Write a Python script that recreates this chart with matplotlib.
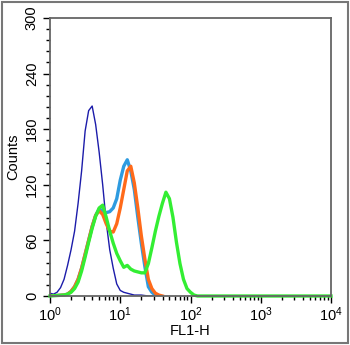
import matplotlib
matplotlib.use('Agg')
import matplotlib.pyplot as plt
from matplotlib.patches import Rectangle
from matplotlib.ticker import MultipleLocator, LogLocator, NullFormatter
import numpy as np

plt.rcParams['font.family'] = ['Liberation Sans', 'DejaVu Sans']
plt.rcParams['mathtext.fontset'] = 'custom'
plt.rcParams['mathtext.rm'] = 'Liberation Sans'

# log10(FL1-H) channel positions and counts
navy_log = [0.00, 0.05, 0.10, 0.15, 0.20, 0.25, 0.30, 0.35, 0.40, 0.45, 0.50, 0.55,
            0.60, 0.65, 0.70, 0.75, 0.80, 0.85, 0.90, 0.95, 1.00, 1.05, 1.10, 1.15,
            1.20, 1.30, 1.40, 1.50]
navy_cnt = [3, 2, 4, 9, 18, 33, 50, 70, 100, 135, 178, 200,
            205, 185, 155, 120, 80, 50, 30, 13, 6, 4, 3, 2,
            1, 1, 0, 0]

lblue_log = [0.00, 0.20, 0.25, 0.30, 0.35, 0.40, 0.45, 0.50, 0.55, 0.60, 0.65, 0.70,
             0.75, 0.80, 0.85, 0.90, 0.95, 1.00, 1.05, 1.10, 1.15, 1.20, 1.25, 1.30,
             1.35, 1.40, 1.45, 1.50, 1.55]
lblue_cnt = [0, 1, 2, 5, 10, 18, 30, 45, 60, 75, 87, 94,
             92, 90, 91, 95, 105, 125, 140, 147, 135, 115, 85, 57,
             32, 10, 4, 1, 0]

orange_log = [0.00, 0.20, 0.25, 0.30, 0.35, 0.40, 0.45, 0.50, 0.55, 0.60, 0.65, 0.70,
              0.75, 0.80, 0.85, 0.90, 0.95, 1.00, 1.05, 1.10, 1.15, 1.20, 1.25, 1.30,
              1.35, 1.40, 1.45, 1.50, 1.55, 1.60]
orange_cnt = [0, 1, 2, 5, 10, 18, 30, 45, 60, 75, 87, 92,
              88, 78, 70, 69, 78, 95, 115, 135, 140, 122, 95, 65,
              40, 18, 8, 3, 1, 0]

green_log = [0.00, 0.20, 0.25, 0.30, 0.35, 0.40, 0.45, 0.50, 0.55, 0.60, 0.65, 0.70,
             0.75, 0.80, 0.85, 0.90, 0.95, 1.00, 1.05, 1.10, 1.15, 1.20, 1.25, 1.30,
             1.35, 1.40, 1.45, 1.50, 1.55, 1.60, 1.65, 1.70, 1.75, 1.80, 1.85, 1.90,
             1.95, 2.00, 2.05, 2.10, 4.00]
green_cnt = [0, 1, 2, 4, 8, 15, 27, 42, 58, 73, 86, 95,
             98, 85, 70, 57, 46, 38, 31, 33, 29, 27, 26, 25,
             25, 35, 52, 70, 86, 100, 112, 105, 85, 58, 35, 18,
             8, 4, 1, 0, 0]

fig = plt.figure(figsize=(3.5, 3.45), dpi=100)
ax = fig.add_axes([50/350, 1 - 296/345, 281/350, 278/345])

ax.plot(10**np.array(navy_log), navy_cnt, color='#1c1caa', lw=1.0)
ax.plot(10**np.array(lblue_log), lblue_cnt, color='#2e9be0', lw=2.4)
ax.plot(10**np.array(orange_log), orange_cnt, color='#ff6a1a', lw=2.4)
ax.plot(10**np.array(green_log), green_cnt, color='#33ee33', lw=2.4, clip_on=False)

ax.set_xscale('log')
ax.set_xlim(1, 1e4)
ax.set_ylim(0, 300)
ax.yaxis.set_major_locator(MultipleLocator(60))
ax.yaxis.set_minor_locator(MultipleLocator(12))
ax.xaxis.set_major_locator(LogLocator(base=10, numticks=10))
ax.xaxis.set_minor_locator(LogLocator(base=10, subs=np.arange(2, 10), numticks=10))
ax.xaxis.set_minor_formatter(NullFormatter())

for s in ax.spines.values():
    s.set_color('#666666')
    s.set_linewidth(1.3)

ax.tick_params(which='both', direction='out', color='black', width=1.0, labelsize=10.5)
ax.tick_params(which='major', length=5)
ax.tick_params(which='minor', length=3)
ax.tick_params(axis='x', which='major', pad=2)
ax.tick_params(axis='y', which='major', pad=3)
for lab in ax.get_yticklabels():
    lab.set_rotation(90)
    lab.set_va('center')

ax.set_ylabel('Counts', fontsize=10.5, labelpad=3)
ax.set_xlabel('FL1-H', fontsize=10.5, labelpad=0)

fig.patches.append(Rectangle((0.006, 0.006), 0.988, 0.988, transform=fig.transFigure,
                             fill=False, edgecolor='#777777', lw=1.5))

plt.savefig('out.png', dpi=100)
